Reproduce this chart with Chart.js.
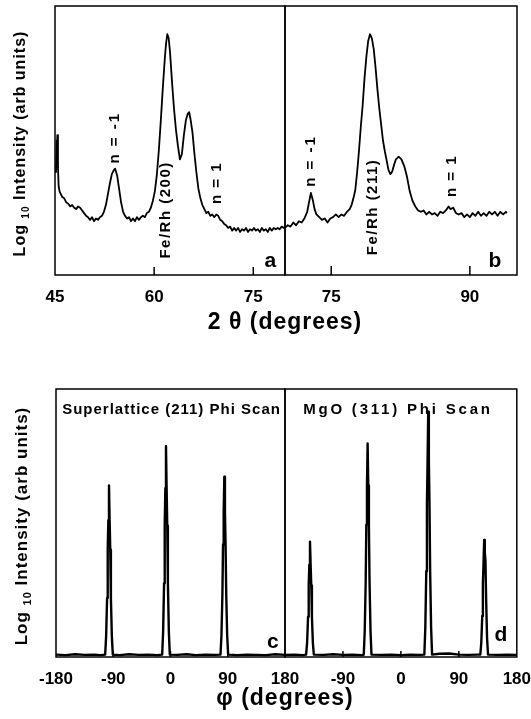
<!DOCTYPE html>
<html>
<head>
<meta charset="utf-8">
<script src="https://cdn.jsdelivr.net/npm/chart.js@4.4.0/dist/chart.umd.min.js"></script>
<style>
body { margin: 0; background: #fff; }
#wrap { position: relative; width: 531px; height: 719px; }
canvas { position: absolute; left: 0; top: 0; }
</style>
</head>
<body>
<div id="wrap">
<canvas id="chartA" width="531" height="719"></canvas>
<canvas id="chartB" width="531" height="719"></canvas>
<canvas id="chartC" width="531" height="719"></canvas>
<canvas id="chartD" width="531" height="719"></canvas>
</div>
<script>
// ---- data: 2-theta scans (panel a, b) ----
var thetaA = [45.15, 45.25, 45.3, 45.35, 45.45, 45.55, 45.7, 45.9, 46.1, 46.4, 46.7, 47.0, 47.3, 47.6, 47.9, 48.2, 48.5, 48.8, 49.1, 49.4,
    49.7, 50.0, 50.3, 50.6, 50.9, 51.2, 51.5, 51.8, 52.1, 52.4, 52.7, 53.0, 53.3, 53.6, 53.9, 54.1, 54.4, 54.7, 55.0, 55.3,
    55.6, 55.9, 56.2, 56.5, 56.8, 57.1, 57.4, 57.7, 58.0, 58.3, 58.6, 58.9, 59.2, 59.5, 59.8, 60.1, 60.4, 60.7, 61.0, 61.3,
    61.6, 61.8, 62.0, 62.2, 62.4, 62.7, 63.0, 63.3, 63.6, 63.9, 64.2, 64.5, 64.8, 65.1, 65.3, 65.5, 65.8, 66.1, 66.4, 66.7,
    67.0, 67.3, 67.6, 67.9, 68.2, 68.5, 68.8, 69.1, 69.4, 69.7, 70.0, 70.3, 70.6, 70.9, 71.2, 71.5, 71.8, 72.1, 72.4, 72.7,
    73.0, 73.3, 73.6, 73.9, 74.2, 74.5, 74.8, 75.1, 75.4, 75.7, 76.0, 76.3, 76.6, 76.9, 77.2, 77.5, 77.8, 78.1, 78.4, 78.7,
    79.0, 79.3, 79.6, 79.8];
var logIA = [38, 50, 44, 52, 40, 33, 31, 30, 29, 28.5, 27, 26.5, 25.5, 26, 25, 24.5, 25.5, 25, 24, 23,
    22, 21.5, 20.5, 21.5, 20, 21, 20.5, 21.5, 22, 23.5, 26, 30, 34, 37.5, 39, 39.5, 37, 32, 27, 23.5,
    22, 21, 21.5, 20, 21, 20, 21.5, 20.5, 21.5, 22, 21.5, 23, 23.5, 25, 27.5, 31, 37, 46, 57, 69,
    80, 86, 89.5, 88, 83, 72, 62, 54, 48, 43, 45, 52, 57.5, 60, 60.5, 58, 53, 45, 38, 32,
    28.5, 26, 24.5, 23, 23.5, 22, 22.5, 21.5, 22.5, 22, 20.5, 20, 19, 18.5, 17.5, 18, 16.5, 17.5, 16.5, 17.5,
    16, 17, 16.5, 17.5, 16, 17, 16.5, 17.5, 16.5, 17, 16, 17.5, 16.5, 17, 16, 17.5, 16.5, 17.5, 17, 17.5,
    17, 18, 17.5, 18];

var thetaB = [70.0, 70.3, 70.6, 70.9, 71.2, 71.5, 71.8, 72.1, 72.4, 72.6, 72.8, 73.0, 73.2, 73.4, 73.7, 74.0, 74.3, 74.6, 74.9, 75.2,
    75.5, 75.8, 76.1, 76.4, 76.7, 77.0, 77.2, 77.4, 77.6, 77.8, 78.0, 78.2, 78.4, 78.6, 78.8, 79.0, 79.2, 79.4, 79.6, 79.8,
    80.0, 80.2, 80.4, 80.6, 80.8, 81.0, 81.2, 81.4, 81.6, 81.8, 82.0, 82.3, 82.6, 82.9, 83.2, 83.5, 83.8, 84.1, 84.4, 84.7,
    85.0, 85.3, 85.6, 85.9, 86.2, 86.5, 86.8, 87.1, 87.4, 87.7, 87.9, 88.2, 88.5, 88.8, 89.1, 89.4, 89.7, 90.0, 90.3, 90.6,
    90.9, 91.2, 91.5, 91.8, 92.1, 92.4, 92.7, 93.0, 93.3, 93.6, 93.9, 94.0];
var logIB = [17.5, 18.5, 18, 19.5, 18.5, 20, 19.5, 21, 23.5, 27, 30.5, 28, 24.5, 22.5, 21.5, 20.5, 21, 19.5, 21, 21.5,
    22.5, 21.5, 22.5, 22, 23.5, 24.5, 26, 28.5, 31.5, 38, 46, 55, 63, 73, 81, 87, 89.5, 88, 84, 77,
    69, 62, 56, 50, 46, 42.5, 39, 37.5, 38.5, 41, 43, 44, 43, 40.5, 36.5, 31, 27.5, 25.5, 24, 23.5,
    24, 22.5, 23.5, 22.5, 23, 22, 23.5, 23, 24, 25.5, 24.5, 25, 23, 22.5, 23, 21.5, 22.5, 21.5, 23, 22,
    23.5, 22, 23, 22, 23.5, 22.5, 23.5, 22, 23.5, 22.5, 23.5, 23];

// ---- data: phi scans (panel c, d) ----
var phiC = [-180, -165, -150, -135, -120, -110, -102.7, -101.2, -99.7, -98.7, -97.7, -96.7, -95.7, -94.7, -93.7, -92.2, -90.7,
    -80, -65, -50, -35, -20, -13.1, -11.6, -10.1, -9.1, -8.1, -7.1, -6.1, -5.1, -4.1, -2.6, -1.1,
    10, 25, 40, 55, 70, 78.6, 80.1, 81.6, 82.6, 83.6, 84.6, 85.6, 86.6, 87.6, 89.1, 90.6,
    105, 120, 135, 150, 165, 180];
var logIC = [0.9, 0.7, 1.0, 0.8, 0.9, 0.7, 0.9, 7.7, 22, 40, 51, 64, 51, 40, 22, 7.7, 0.9,
    0.7, 1.0, 0.8, 0.9, 0.7, 0.9, 9.4, 27.5, 49, 63, 78.7, 63, 49, 27.5, 9.4, 0.9,
    0.8, 1.0, 0.7, 0.9, 0.8, 0.9, 8, 23.5, 42, 54, 67.3, 54, 42, 23.5, 8, 0.9,
    0.7, 0.9, 0.8, 0.7, 1.0, 0.8];

var phiD = [-180, -165, -152, -147.2, -145.7, -144.2, -143.2, -142.2, -141.2, -140.2, -139.2, -138.2, -136.7, -135.2,
    -120, -105, -90, -75, -60, -57.7, -56.2, -54.7, -53.7, -52.7, -51.7, -50.7, -49.7, -48.7, -47.2, -45.7,
    -30, -15, 0, 15, 30, 36.4, 37.9, 39.4, 40.4, 41.4, 42.4, 43.4, 44.4, 45.4, 46.9, 48.4,
    60, 75, 90, 105, 120, 123.3, 124.8, 126.3, 127.3, 128.3, 129.3, 130.3, 131.3, 132.3, 133.8, 135.3,
    150, 165, 180];
var logID = [0.8, 0.9, 0.7, 0.9, 5.2, 15, 26.7, 34.4, 43, 34.4, 26.7, 15, 5.2, 0.9,
    0.8, 1.0, 0.8, 0.9, 0.7, 0.9, 9.6, 28, 49.4, 64, 79.7, 64, 49.4, 28, 9.6, 0.9,
    0.8, 0.9, 0.7, 0.9, 0.8, 0.9, 11, 32, 56.7, 73, 91.5, 73, 56.7, 32, 11, 0.9,
    1.2, 1.3, 0.9, 0.8, 0.9, 0.9, 5.2, 15.3, 27, 35, 43.7, 39, 36, 22, 7, 0.9,
    0.8, 0.9, 0.8];

// tick labels
var ticksA = [45, 60, 75];
var ticksB = [75, 90];
var ticksC = [-180, -90, 0, 90, 180];
var ticksD = [-90, 0, 90, 180];

Chart.defaults.font.family = "'Liberation Sans', Arial, sans-serif";
Chart.defaults.color = '#000';

var noteFont = "bold 15px 'Liberation Sans', Arial, sans-serif";
var letterFont = "bold 21px 'Liberation Sans', Arial, sans-serif";

// frame, inner ticks, in-plot labels
function panelPlugin(cfg) {
    return {
        id: 'panel',
        afterDraw: function (chart) {
            var ctx = chart.ctx;
            var area = chart.chartArea;
            var xs = chart.scales.x;
            var ys = chart.scales.y;
            ctx.save();
            ctx.strokeStyle = '#000';
            ctx.lineWidth = 1.5;
            ctx.strokeRect(area.left, area.top, area.right - area.left, area.bottom - area.top);
            cfg.innerTicks.forEach(function (v) {
                var px = xs.getPixelForValue(v);
                ctx.beginPath();
                ctx.moveTo(px, area.bottom);
                ctx.lineTo(px, area.bottom - cfg.tickLen);
                ctx.stroke();
            });
            ctx.fillStyle = '#000';
            cfg.notes.forEach(function (n) {
                ctx.save();
                ctx.translate(xs.getPixelForValue(n.x), ys.getPixelForValue(n.y));
                if (n.rot) ctx.rotate(-Math.PI / 2);
                ctx.font = n.font;
                ctx.letterSpacing = n.sp || '0px';
                ctx.textAlign = 'center';
                ctx.textBaseline = 'middle';
                ctx.fillText(n.text, 0, 0);
                ctx.restore();
            });
            if (cfg.yTitle) drawYTitle(ctx, area.left - cfg.yTitle.dx, (area.top + area.bottom) / 2 + 3, cfg.yTitle.size);
            if (cfg.xTitle) {
                ctx.font = 'bold 23px ' + "'Liberation Sans', Arial, sans-serif";
                ctx.letterSpacing = '1px';
                ctx.textAlign = 'center';
                ctx.textBaseline = 'alphabetic';
                ctx.fillText(cfg.xTitle.text, area.left, area.bottom + cfg.xTitle.dy);
            }
            ctx.restore();
        }
    };
}

// rotated y title with subscript 10
function drawYTitle(ctx, xBase, yMid, size) {
    var fam = "'Liberation Sans', Arial, sans-serif";
    ctx.save();
    ctx.translate(xBase, yMid);
    ctx.rotate(-Math.PI / 2);
    ctx.letterSpacing = '1px';
    ctx.textAlign = 'left';
    ctx.textBaseline = 'alphabetic';
    ctx.font = 'bold ' + size + 'px ' + fam;
    var w1 = ctx.measureText('Log ').width;
    var w3 = ctx.measureText(' Intensity (arb units)').width;
    ctx.font = 'bold ' + Math.round(size * 0.62) + 'px ' + fam;
    var w2 = ctx.measureText('10').width;
    var x0 = -(w1 + w2 + w3) / 2;
    ctx.font = 'bold ' + size + 'px ' + fam;
    ctx.fillText('Log ', x0, 0);
    ctx.fillText(' Intensity (arb units)', x0 + w1 + w2, 0);
    ctx.font = 'bold ' + Math.round(size * 0.62) + 'px ' + fam;
    ctx.fillText('10', x0 + w1, 4);
    ctx.restore();
}

function makePanel(id, xs, ys, xmin, xmax, ticks, pad, lineW, cfg) {
    var pts = xs.map(function (x, i) { return { x: x, y: ys[i] }; });
    return new Chart(document.getElementById(id).getContext('2d'), {
        type: 'line',
        data: {
            datasets: [{
                data: pts,
                borderColor: '#000',
                borderWidth: lineW,
                borderJoinStyle: 'round',
                pointRadius: 0,
                tension: 0,
                fill: false
            }]
        },
        options: {
            responsive: false,
            animation: false,
            devicePixelRatio: 1,
            layout: { autoPadding: false, padding: pad },
            plugins: { legend: { display: false }, tooltip: { enabled: false } },
            scales: {
                x: {
                    type: 'linear',
                    min: xmin,
                    max: xmax,
                    // tick marks are drawn inside the frame by the plugin; tickLength only offsets the labels
                    grid: { display: false, drawTicks: true, tickLength: 12 },
                    border: { display: false },
                    afterBuildTicks: function (scale) {
                        scale.ticks = ticks.map(function (v) { return { value: v }; });
                    },
                    afterFit: function (scale) { scale.height = 40; },
                    ticks: {
                        autoSkip: false,
                        maxRotation: 0,
                        padding: 0,
                        font: { size: 17, weight: 'bold' },
                        color: '#000'
                    }
                },
                y: { display: false, min: 0, max: 100 }
            }
        },
        plugins: [panelPlugin(cfg)]
    });
}

// 2-theta, panel a
makePanel('chartA', thetaA, logIA, 45, 79.8, ticksA,
    { left: 55, right: 531 - 285, top: 6, bottom: 719 - 275 - 40 }, 1.8, {
        innerTicks: [60, 75], tickLen: 8,
        yTitle: { dx: 30, size: 16 },
        notes: [
            { text: 'n = -1', x: 54.1, y: 51, rot: true, font: noteFont, sp: '2px' },
            { text: 'Fe/Rh (200)', x: 61.8, y: 24.2, rot: true, font: noteFont, sp: '1.5px' },
            { text: 'n = 1', x: 69.5, y: 34.2, rot: true, font: noteFont, sp: '1.5px' },
            { text: 'a', x: 77.6, y: 5, font: letterFont }
        ]
    });

// 2-theta, panel b
makePanel('chartB', thetaB, logIB, 70, 95.1, ticksB,
    { left: 285, right: 531 - 517, top: 6, bottom: 719 - 275 - 40 }, 1.8, {
        innerTicks: [75, 90], tickLen: 9,
        xTitle: { text: '2 θ (degrees)', dy: 54 },
        notes: [
            { text: 'n = -1', x: 72.8, y: 42.4, rot: true, font: noteFont, sp: '2px' },
            { text: 'Fe/Rh (211)', x: 79.5, y: 25.3, rot: true, font: noteFont, sp: '1.5px' },
            { text: 'n = 1', x: 88.05, y: 36.8, rot: true, font: noteFont, sp: '1.5px' },
            { text: 'b', x: 92.7, y: 5, font: letterFont }
        ]
    });

// phi scan, panel c
makePanel('chartC', phiC, logIC, -180, 180, ticksC,
    { left: 56, right: 531 - 285, top: 389, bottom: 719 - 657 - 40 }, 2.4, {
        innerTicks: [-90, 0, 90], tickLen: 6,
        yTitle: { dx: 29, size: 17 },
        notes: [
            { text: 'Superlattice (211) Phi Scan', x: 1.6, y: 92.2, font: noteFont, sp: '1px' },
            { text: 'c', x: 161, y: 5.6, font: letterFont }
        ]
    });

// phi scan, panel d
makePanel('chartD', phiD, logID, -180, 180, ticksD,
    { left: 285, right: 531 - 517, top: 389, bottom: 719 - 657 - 40 }, 2.4, {
        innerTicks: [-90, 0, 90], tickLen: 6,
        xTitle: { text: 'φ (degrees)', dy: 48 },
        notes: [
            { text: 'MgO (311) Phi Scan', x: -4.6, y: 92.2, font: noteFont, sp: '2.8px' },
            { text: 'd', x: 155.2, y: 8.2, font: letterFont }
        ]
    });
</script>
</body>
</html>
